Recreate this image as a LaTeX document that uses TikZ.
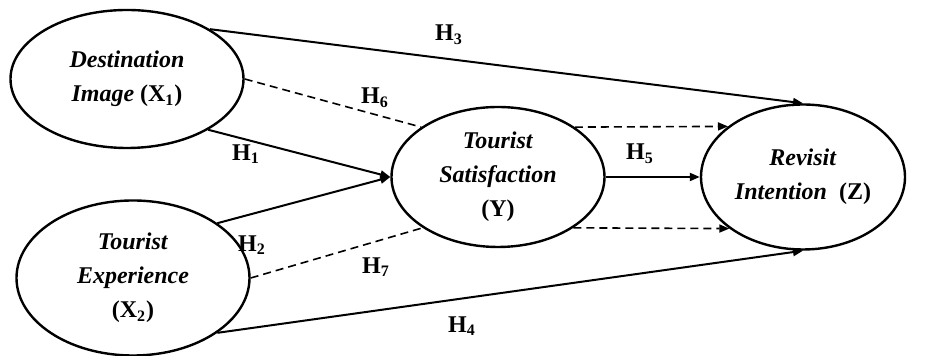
\documentclass[tikz,border=0pt]{standalone}
\usepackage{fontspec}
\setmainfont{Liberation Serif}
\usetikzlibrary{shapes.geometric,arrows.meta}
\tikzset{
  latent/.style={ellipse,draw,line width=1.2pt,inner sep=0pt,align=center,
    font=\fontsize{12}{17}\selectfont\bfseries},
  effect/.style={line width=1pt,-{Triangle[length=5pt,width=4pt]}},
  mediate/.style={line width=0.8pt,dash pattern=on 4pt off 2.5pt},
  hyp/.style={font=\fontsize{12}{14}\selectfont\bfseries,inner sep=0pt}
}
\begin{document}
\begin{tikzpicture}[x=0.5pt,y=-0.5pt]
        \useasboundingbox (0,0) rectangle (926,356);
        \node[latent,minimum width=116.5pt,minimum height=69pt] (dest) at (127,79) {\textit{Destination}\\\textit{Image} (X\textsubscript{1})};
        \node[latent,minimum width=116.5pt,minimum height=77.5pt] (exper) at (133,278) {\textit{Tourist}\\\textit{Experience}\\(X\textsubscript{2})};
        \node[latent,minimum width=106.5pt,minimum height=70pt] (satis) at (498,177) {\textit{Tourist}\\\textit{Satisfaction}\\(Y)};
        \node[latent,minimum width=102pt,minimum height=72.5pt] (revisit) at (803,177) {\textit{Revisit}\\\textit{Intention}\ \ (Z)};
        \node[hyp] (h1) at (246,154) {H\textsubscript{1}};
        \node[hyp] (h2) at (252,245) {H\textsubscript{2}};
        \node[hyp] (h3) at (449,35) {H\textsubscript{3}};
        \node[hyp] (h4) at (462,326) {H\textsubscript{4}};
        \node[hyp] (h5) at (640,154) {H\textsubscript{5}};
        \node[hyp] (h6) at (375,98) {H\textsubscript{6}};
        \node[hyp] (h7) at (376,267) {H\textsubscript{7}};
        \draw[effect] (dest.-32) -- (satis.west);
        \draw[effect] (exper.33) -- (satis.west);
        \draw[effect] (dest.31) -- (revisit.north);
        \draw[effect] (exper.-33) -- (revisit.south);
        \draw[effect] (satis.east) -- (revisit.west);
        \draw[mediate] (dest.east) -- (satis.147);
        \draw[mediate] (exper.east) -- (satis.214);
        \draw[mediate,-{Triangle[length=5pt,width=4pt]}] (satis.33) -- (revisit.146);
        \draw[mediate,-{Triangle[length=5pt,width=4pt]}] (satis.-34) -- (revisit.215);
      \end{tikzpicture}
\end{document}
